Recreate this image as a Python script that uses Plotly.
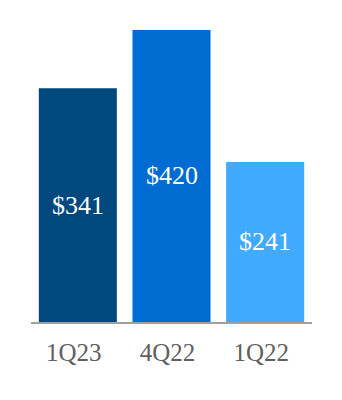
import plotly.graph_objects as go

categories = ["1Q23", "4Q22", "1Q22"]
values = [341, 420, 241]
labels = ["$341", "$420", "$241"]
colors = ["#00487D", "#006CD1", "#40AAFF"]

y_low = 24
y_high = 447

fig = go.Figure(
    go.Bar(
        x=categories,
        y=values,
        marker=dict(color=colors, line=dict(width=0)),
        hoverinfo="skip",
    )
)

for cat, val, lab in zip(categories, values, labels):
    fig.add_annotation(
        x=cat,
        y=(y_low + val) / 2,
        text=lab,
        showarrow=False,
        xanchor="center",
        yanchor="middle",
        font=dict(family="Liberation Serif", size=26, color="white"),
    )

fig.update_layout(
    width=342,
    height=400,
    margin=dict(l=31, r=30, t=10, b=78),
    paper_bgcolor="white",
    plot_bgcolor="white",
    bargap=0.167,
    showlegend=False,
    xaxis=dict(
        showline=True,
        linecolor="#A0A0A0",
        linewidth=2,
        showgrid=False,
        ticks="",
        tickfont=dict(family="Liberation Serif", size=25, color="#606060"),
        ticklabelstandoff=7,
        ticklabelshift=-4,
    ),
    yaxis=dict(
        range=[y_low, y_high],
        visible=False,
        showgrid=False,
        zeroline=False,
    ),
)

fig.write_html("out.html")
